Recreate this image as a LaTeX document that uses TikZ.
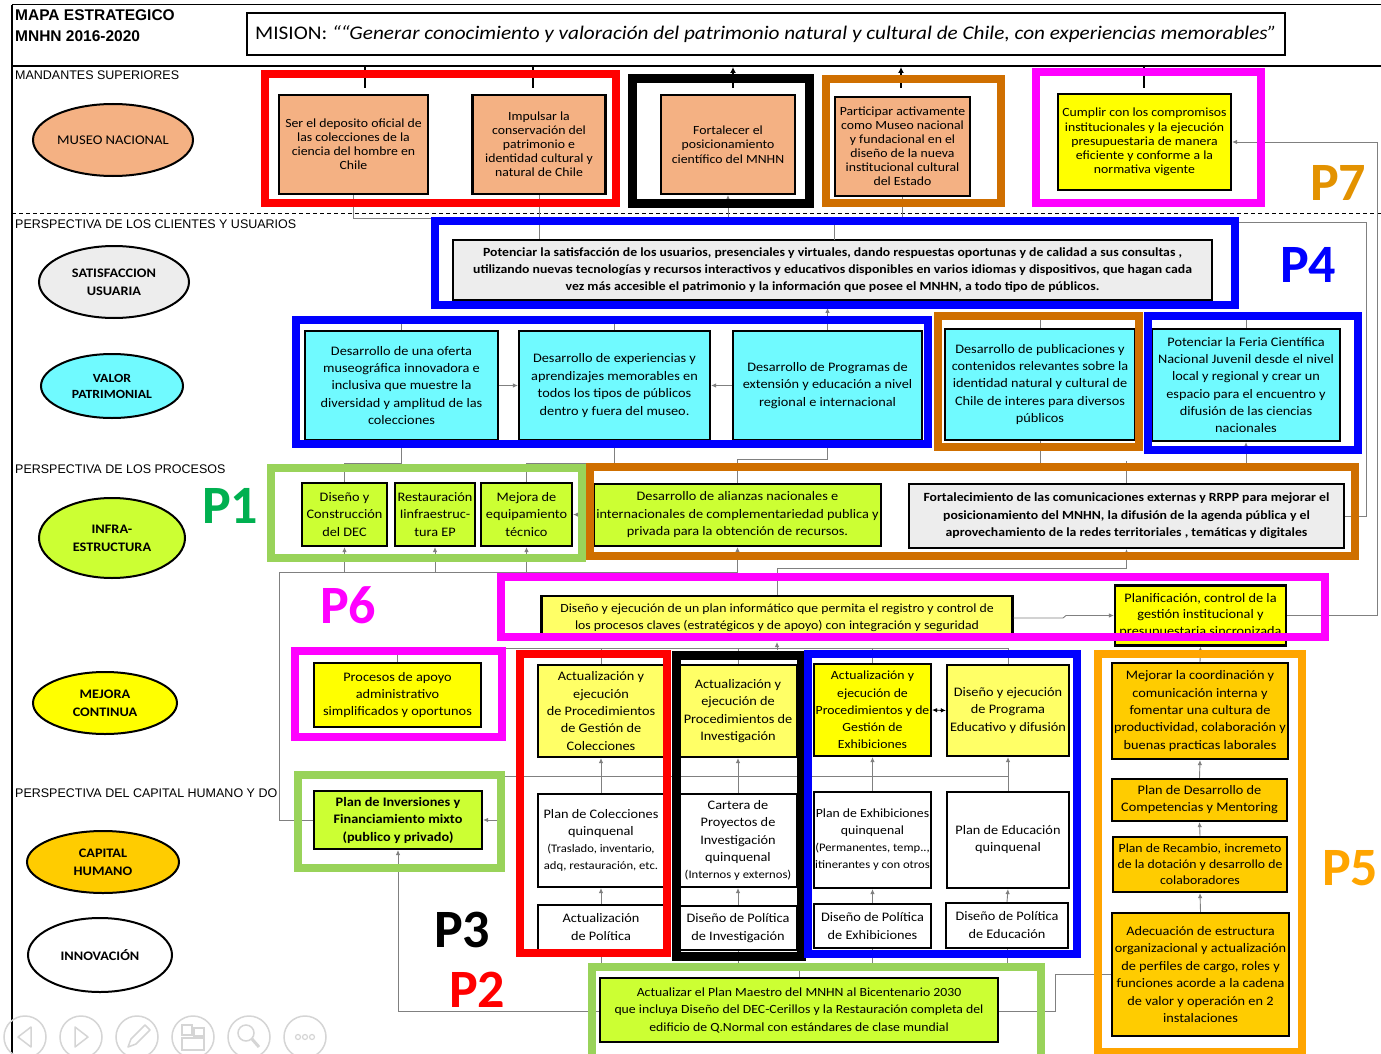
\documentclass[tikz,border=0pt]{standalone}
\usepackage{fontspec}
\setmainfont{Carlito}[FakeStretch=1.1]
\newfontfamily\plabf{Carlito}
\newfontfamily\arialf{Liberation Sans}
\usetikzlibrary{shapes.geometric,arrows.meta}
\newcommand{\fsz}[2]{\fontsize{#1}{#2}\selectfont}
\definecolor{salmon}{HTML}{F4B183}
\definecolor{lgray}{HTML}{EDEDED}
\definecolor{cyanb}{HTML}{70FAFF}
\definecolor{lime}{HTML}{CCFF33}
\definecolor{yel}{HTML}{FFFF00}
\definecolor{lyel}{HTML}{FFFF66}
\definecolor{gold}{HTML}{FFCC00}
\definecolor{gfr}{HTML}{99D35A}
\definecolor{bfr}{HTML}{CF6F00}
\definecolor{ofr}{HTML}{FFA500}
\definecolor{mag}{HTML}{FF00FF}
\definecolor{pone}{HTML}{00B050}
\definecolor{pseven}{HTML}{E39200}
\definecolor{conn}{HTML}{808080}
\definecolor{icon}{HTML}{D5D5D5}
\begin{document}
\begin{tikzpicture}[x=1pt,y=-1pt,
  bx/.style={draw=black,line width=2.2pt,inner sep=0pt,align=center,font=\fsz{13}{17.4}},
  ell/.style={ellipse,draw=black,line width=2pt,inner sep=0pt,align=center,font=\fsz{13}{18}\bfseries},
  frm/.style={line width=8pt},
  cn/.style={draw=conn,line width=0.9pt},
  ar/.style={cn,-{Latex[length=5pt,width=4.5pt]}},
  thk/.style={draw=black,line width=2.5pt},
  thkar/.style={thk,-{Latex[length=6pt,width=6pt]}},
  plab/.style={font=\plabf\fsz{54}{54}\bfseries,inner sep=0pt,anchor=base west},
  sec/.style={anchor=base west,font=\arialf\fsz{12.5}{14},inner sep=0pt},
  ico/.style={draw=icon,line width=1.5pt},
]
\useasboundingbox (0,0) rectangle (1381,1054);
\fill[white] (0,0) rectangle (1381,1054);
\coordinate (hl572) at (0,572);
\coordinate (hl776) at (0,776);

% ---------- page rules ----------
\draw[line width=1pt] (12,5) -- (1381,5);
\draw[line width=2.5pt] (12,66) -- (1381,66);
\draw[line width=1.2pt] (12,5) -- (12,1054);
\draw[line width=0.8pt,dash pattern=on 4pt off 3pt] (12,213) -- (1381,213);

% ---------- header ----------
\node[anchor=base west,inner sep=0pt,font=\arialf\bfseries\fsz{15.5}{16}] (t1) at (15,21) {MAPA ESTRATEGICO};
\node[anchor=base west,inner sep=0pt,font=\arialf\bfseries\fsz{15.5}{16}] (t2) at (15,42) {MNHN 2016-2020};
\node[draw=black,line width=2pt,minimum width=1038,minimum height=42,inner sep=0pt,font=\fsz{19.3}{20}] (mision) at (766,34.5) {MISION: \textit{““Generar conocimiento y valoración del patrimonio natural y cultural de Chile, con experiencias memorables”}};

% ---------- section labels ----------
\node[sec] (s1) at (15,80) {MANDANTES SUPERIORES};
\node[sec] (s2) at (15,228) {PERSPECTIVA DE LOS CLIENTES Y USUARIOS};
\node[sec] (s3) at (15,473) {PERSPECTIVA DE LOS PROCESOS};
\node[sec] (s4) at (15,797) {PERSPECTIVA DEL CAPITAL HUMANO Y DO};

% ---------- ellipses ----------
\node[ell,fill=salmon,minimum width=160,minimum height=72,font=\fsz{13.3}{15}] (museo) at (113,140) {MUSEO NACIONAL};
\node[ell,fill=lgray,minimum width=150,minimum height=72] (satis) at (114,282) {SATISFACCION\\USUARIA};
\node[ell,fill=cyanb,minimum width=142,minimum height=64,font=\fsz{12.5}{16}\bfseries] (valor) at (112,386) {VALOR\\PATRIMONIAL};
\node[ell,fill=lime,minimum width=146,minimum height=80] (infra) at (112,538) {INFRA-\\ESTRUCTURA};
\node[ell,fill=yel,minimum width=144,minimum height=62] (mejora) at (105,703) {MEJORA\\CONTINUA};
\node[ell,fill=gold,minimum width=152,minimum height=62] (capital) at (103,862) {CAPITAL\\HUMANO};
\node[ell,fill=white,minimum width=144,minimum height=74,font=\fsz{13}{16}\bfseries] (innov) at (100,955) {INNOVACIÓN};

% ---------- boxes: mandantes ----------
\node[bx,fill=salmon,minimum width=149,minimum height=99,font=\fsz{12.5}{14}] (m1) at (353.5,144.5) {Ser el deposito oficial de\\las colecciones de la\\ciencia del hombre en\\Chile};
\node[bx,fill=salmon,minimum width=133,minimum height=99,font=\fsz{12.5}{14}] (m2) at (539,144.5) {Impulsar  la\\conservación del\\patrimonio e\\identidad cultural y\\natural de Chile};
\node[bx,fill=salmon,minimum width=134,minimum height=99,font=\fsz{12.5}{14.5}] (m3) at (728,144.5) {Fortalecer el\\posicionamiento\\científico del MNHN};
\node[bx,fill=salmon,minimum width=135,minimum height=99,font=\fsz{12.5}{14}] (m4) at (902.5,146.5) {Participar activamente\\como Museo nacional\\y fundacional en el\\diseño de la nueva\\institucional cultural\\del Estado};
\node[bx,fill=yel,minimum width=173,minimum height=96,font=\fsz{12.5}{14.2}] (m5) at (1144.5,142) {Cumplir con los compromisos\\institucionales y la ejecución\\presupuestaria de manera\\eficiente y conforme a la\\normativa vigente};

% ---------- clientes ----------
\node[bx,fill=lgray,minimum width=759,minimum height=60,font=\fsz{12.5}{17}\bfseries] (p4box) at (832.5,270) {Potenciar la satisfacción de los usuarios, presenciales  y virtuales, dando respuestas oportunas y de calidad a sus consultas ,\\utilizando nuevas tecnologías y recursos interactivos y educativos disponibles en varios idiomas y dispositivos, que hagan cada\\vez más  accesible el patrimonio  y la información que posee el MNHN, a todo tipo de públicos.};

\node[bx,fill=cyanb,minimum width=193,minimum height=109] (va) at (401.5,385.5) {Desarrollo de una oferta\\museográfica innovadora e\\inclusiva que muestre la\\diversidad y amplitud de las\\colecciones};
\node[bx,fill=cyanb,minimum width=191,minimum height=109] (vb) at (614.5,385.5) {Desarrollo de experiencias y\\aprendizajes memorables en\\todos los  tipos de públicos\\dentro y fuera del museo.};
\node[bx,fill=cyanb,minimum width=189,minimum height=109] (vc) at (827.5,385.5) {Desarrollo de Programas de\\extensión y educación a nivel\\regional e internacional};
\node[bx,fill=cyanb,minimum width=190,minimum height=111] (vd) at (1040,384.5) {Desarrollo de publicaciones y\\contenidos relevantes sobre la\\identidad natural y cultural de\\Chile de interes para diversos\\públicos};
\node[bx,fill=cyanb,minimum width=188,minimum height=112,font=\fsz{13}{17.3}] (ve) at (1246,385) {Potenciar la Feria Científica\\Nacional Juvenil desde el nivel\\local y regional y crear un\\espacio para el encuentro y\\difusión de las ciencias\\nacionales};

% ---------- procesos ----------
\node[bx,fill=lime,minimum width=85,minimum height=63,font=\fsz{13}{17.5}] (dec) at (344.5,514.5) {Diseño y\\Construcción\\del DEC};
\node[bx,fill=lime,minimum width=80,minimum height=63,font=\fsz{13}{17.5}] (rest) at (435,514.5) {Restauración\\Iinfraestruc-\\tura EP};
\node[bx,fill=lime,minimum width=91,minimum height=63,font=\fsz{13}{17.5}] (mejq) at (526.5,514.5) {Mejora de\\equipamiento\\técnico};
\node[bx,fill=lime,minimum width=287,minimum height=62,font=\fsz{13}{17.5}] (alian) at (737.5,515) {Desarrollo de alianzas nacionales e\\internacionales de complementariedad publica y\\privada para la obtención de recursos.};
\node[bx,fill=lgray,minimum width=435,minimum height=64,font=\fsz{12.5}{17.5}\bfseries] (fort) at (1126.5,516) {Fortalecimiento de las comunicaciones externas y RRPP  para mejorar el\\posicionamiento del MNHN, la difusión de la agenda pública  y el\\aprovechamiento de la redes territoriales , temáticas y digitales};

\node[bx,fill=lyel,minimum width=471,minimum height=44,font=\fsz{12.5}{17}] (pinf) at (777,618) {Diseño y ejecución de un plan informático que  permita el registro y control de\\los procesos claves (estratégicos y de apoyo) con integración y seguridad};
\node[bx,fill=yel,minimum width=171,minimum height=60,font=\fsz{13}{16.5}] (plan) at (1200.5,615.5) {Planificación, control de la\\gestión institucional y\\presupuestaria sincronizada};

\node[bx,fill=yel,minimum width=167,minimum height=64,font=\fsz{13}{16.7}] (proc) at (397.5,695) {Procesos de apoyo\\administrativo\\simplificados y oportunos};
\node[bx,fill=lime,minimum width=168,minimum height=58,font=\fsz{13}{17.5}\bfseries] (inv) at (398,820) {Plan de Inversiones y\\Financiamiento mixto\\(publico y privado)};

% columns
\node[bx,fill=lyel,minimum width=126,minimum height=92,font=\fsz{13}{17.3}] (c1t) at (601,711) {Actualización  y\\ejecución\\de Procedimientos\\de Gestión de\\Colecciones};
\node[bx,fill=white,minimum width=126,minimum height=93,font=\fsz{13}{17}] (c1m) at (601,840.5) {Plan de Colecciones\\quinquenal\\{\fsz{11.5}{16}(Traslado,   inventario,}\\{\fsz{11.5}{16}adq, restauración, etc.}};
\node[bx,fill=white,minimum width=126,minimum height=45,font=\fsz{13}{18}] (c1b) at (601,927.5) {Actualización\\de Política};

\node[bx,fill=lyel,minimum width=118,minimum height=92,font=\fsz{13}{17.3}] (c2t) at (738,711) {Actualización y\\ejecución de\\Procedimientos de\\Investigación};
\node[bx,fill=white,minimum width=118,minimum height=93,font=\fsz{13}{17.3}] (c2m) at (738,840.5) {Cartera de\\Proyectos de\\Investigación\\quinquenal\\{\fsz{11.5}{16}(Internos y externos)}};
\node[bx,fill=white,minimum width=118,minimum height=44,font=\fsz{13}{18}] (c2b) at (738,928) {Diseño de Política\\de Investigación};

\node[bx,fill=yel,minimum width=117,minimum height=92,font=\fsz{12.5}{17.3}] (c3t) at (872.5,710) {Actualización y\\ejecución de\\Procedimientos y de\\Gestión de\\Exhibiciones};
\node[bx,fill=white,minimum width=117,minimum height=96,font=\fsz{12.5}{17}] (c3m) at (872.5,840) {Plan de Exhibiciones\\quinquenal\\{\fsz{11.5}{16}(Permanentes, temp..,}\\{\fsz{11.5}{16}itinerantes y con otros}};
\node[bx,fill=white,minimum width=117,minimum height=44,font=\fsz{13}{18}] (c3b) at (872.5,926) {Diseño de Política\\de Exhibiciones};

\node[bx,fill=lyel,minimum width=122,minimum height=91,font=\fsz{13}{17.3}] (c4t) at (1008,710.5) {Diseño y ejecución\\de  Programa\\Educativo y difusión};
\node[bx,fill=white,minimum width=122,minimum height=96,font=\fsz{13}{17}] (c4m) at (1008,840) {Plan de Educación\\quinquenal};
\node[bx,fill=white,minimum width=122,minimum height=45,font=\fsz{13}{18}] (c4b) at (1007,925.5) {Diseño de Política\\de Educación};

% P5
\node[bx,fill=gold,minimum width=176,minimum height=96,font=\fsz{13}{17.3}] (h1) at (1200,711) {Mejorar la coordinación y\\comunicación interna y\\fomentar una cultura  de\\productividad, colaboración y\\buenas practicas laborales};
\node[bx,fill=gold,minimum width=175,minimum height=42,font=\fsz{13}{17}] (h2) at (1199.5,800) {Plan de Desarrollo de\\Competencias y Mentoring};
\node[bx,fill=gold,minimum width=174,minimum height=55,font=\fsz{12.5}{16}] (h3) at (1200,864.5) {Plan de Recambio, incremeto\\de la dotación y desarrollo de\\colaboradores};
\node[bx,fill=gold,minimum width=177,minimum height=123,font=\fsz{13}{17.4}] (h4) at (1200.5,974.5) {Adecuación de estructura\\organizacional y actualización\\de perfiles de cargo, roles y\\funciones acorde a la cadena\\de valor y operación en 2\\instalaciones};

% ---------- connectors ----------
% to mission line
\draw[thk] (365,88) -- (365,66.5);
\draw[thk] (533,88) -- (533,66.5);
\draw[thkar] (733,88) -- (733,67);
\draw[thkar] (901,88) -- (901,67);
\draw[thk] (1144,88) -- (1144,66.5);
% row 1 to P4
\draw[cn] (m1.south) -- ++(0,23) -| (m2.south);
\draw[cn] (m2.south) -- (m2.south |- p4box.north);
\draw[ar] (834,240) -- (834,222) -| (m3.south);
\draw[cn] (m4.south) -- ++(0,26);
\draw[ar] (plan.east) -- (1377,615.5) |- (m5.east);
\draw[cn] (fort.east) -- (1366,516) -- (1366,222) -- (1238,222);
% valor row
\draw[cn] (va.north) -- ++(0,-14);
\draw[cn] (vb.north) -- ++(0,-14);
\draw[cn] (vd.north) -- ++(0,-15);
\draw[cn] (ve.north) -- ++(0,-15);
\draw[ar] (vc.north) -- ++(0,-22);
\draw[ar] (va.east) -- (vb.west);
\draw[ar] (vc.west) -- (vb.east);
\draw[cn] (va.south) -- ++(0,22) -| (dec.north);
\draw[cn] (vb.south) -- ++(0,22) -| (mejq.north);
\draw[cn] (vc.south) -- ++(0,18) -| (alian.north);
\draw[ar] (vd.south) -- ++(0,22) -| (ve.south);
\draw[cn] (fort.north) -- ++(0,-22);
% procesos
\draw[ar] (alian.west) -- (mejq.east);
\draw[cn] (inv.west) -- (279,820) -- (279,572) -- (737.5,572);
\draw[ar] (dec.south |- hl572) -- (dec.south);
\draw[ar] (rest.south |- hl572) -- (rest.south);
\draw[ar] (mejq.south |- hl572) -- (mejq.south);
\draw[ar] (alian.south |- hl572) -- (alian.south);
\draw[ar] (pinf.north) -- ++(0,-26) -| (fort.south);
\draw[ar] (pinf.east) -- (1063,618) -- (1066,615.5) -- (plan.west);
% P3 area
\draw[cn] (proc.north) -- ++(0,-13) -| (c4t.north);
\draw[cn] (c1t.north) -- ++(0,-15);
\draw[cn] (c2t.north) -- ++(0,-15);
\draw[cn] (c3t.north) -- ++(0,-15);
\draw[ar] (777,650) -- (777,642);
\draw[ar] (c1b.north) -- (c1m.south);
\draw[ar] (c1m.north) -- (c1t.south);
\draw[ar] (c2b.north) -- (c2m.south);
\draw[ar] (c2m.north) -- (c2t.south);
\draw[ar] (c3b.north) -- (c3m.south);
\draw[ar] (c3m.north) -- (c3t.south);
\draw[ar] (c4b.north) -- (c4m.south);
\draw[ar] (c4m.north) -- (c4t.south);
\draw[draw=black,line width=0.9pt,{Latex[length=5pt,width=4.5pt]}-{Latex[length=5pt,width=4.5pt]}] (c3t.east) -- (c4t.west);
\draw[ar] (c4t.south |- hl776) -- (500,776) |- (inv.east);
\draw[cn] (c1b.south) -- ++(0,13) -| (c4b.south);
\draw[cn] (c2b.south) -- ++(0,13);
\draw[cn] (c3b.south) -- ++(0,15);
\draw[cn] (799,963) -- (799,978);
\draw[ar] (h4.west) -| (1055,1011) -| (inv.south);
% P5
\draw[ar] (h4.north) -- (h3.south);
\draw[ar] (h3.north) -- (h2.south);
\draw[ar] (h2.north) -- (h1.south);
\draw[ar] (h1.north) -- (plan.south);

% P2 box (drawn over the connector passing behind it)
\node[bx,fill=lime,minimum width=398,minimum height=64,font=\fsz{12.5}{17.5}] (pm) at (799,1010) {Actualizar el Plan Maestro del MNHN al Bicentenario 2030\\que incluya Diseño del DEC-Cerillos y la Restauración completa del\\edificio de Q.Normal con estándares de clase mundial};

% ---------- frames ----------
\draw[frm,red] (265,74) rectangle (616,203);
\draw[frm,black,line width=9pt] (632,79) rectangle (809,203);
\draw[frm,bfr] (826,79) rectangle (1001,203);
\draw[frm,mag] (1036,72) rectangle (1261,203);
\draw[frm,blue] (435,221) rectangle (1235,305);
\draw[frm,blue] (296,320) rectangle (928,444);
\draw[frm,bfr] (938,316) rectangle (1139,447);
\draw[frm,blue] (1148,316) rectangle (1358,450);
\draw[frm,gfr] (271,468) rectangle (582,558);
\draw[frm,bfr] (590,467) rectangle (1355,556);
\draw[frm,mag] (501,577) rectangle (1325,637);
\draw[frm,mag] (295,651) rectangle (502,737);
\draw[frm,gfr] (298,775) rectangle (501,868);
\draw[frm,red] (520,654) rectangle (667,953);
\draw[frm,black,line width=9pt] (676,655) rectangle (801,956);
\draw[frm,blue] (808,654) rectangle (1077,954);
\draw[frm,ofr] (1098,654) rectangle (1302,1052);
\draw[frm,gfr] (592,967) rectangle (1041,1060);

% ---------- P labels ----------
\node[plab,text=pseven] (P7) at (1310,200) {P7};
\node[plab,text=blue] (P4) at (1280,282) {P4};
\node[plab,text=pone] (P1) at (202,523) {P1};
\node[plab,text=mag] (P6) at (320,623) {P6};
\node[plab,text=black] (P3) at (434,947) {P3};
\node[plab,text=red] (P2) at (449,1007) {P2};
\node[plab,text=ofr] (P5) at (1322,885) {P5};

% ---------- toolbar icons ----------
\foreach \cx in {25,81,137,193,249,305} \draw[ico] (\cx,1037) circle (21);
\draw[ico,line join=round] (31,1027) -- (18,1037) -- (31,1047) -- cycle;
\draw[ico,line join=round] (75,1027) -- (88,1037) -- (75,1047) -- cycle;
\draw[ico,line join=round] (128,1047) -- (131,1039) -- (145,1025) -- (150,1030) -- (136,1044) -- cycle;
\draw[ico] (182,1025) rectangle (192,1035);
\draw[ico] (194,1028) rectangle (204,1036);
\draw[ico] (182,1038) rectangle (204,1050);
\draw[ico] (246,1033) circle (8);
\draw[ico,line width=3pt] (252,1039) -- (259,1047);
\foreach \dx in {-7,0,7} \draw[ico,line width=1.2pt] (305+\dx,1037) circle (2.5);
\end{tikzpicture}
\end{document}
